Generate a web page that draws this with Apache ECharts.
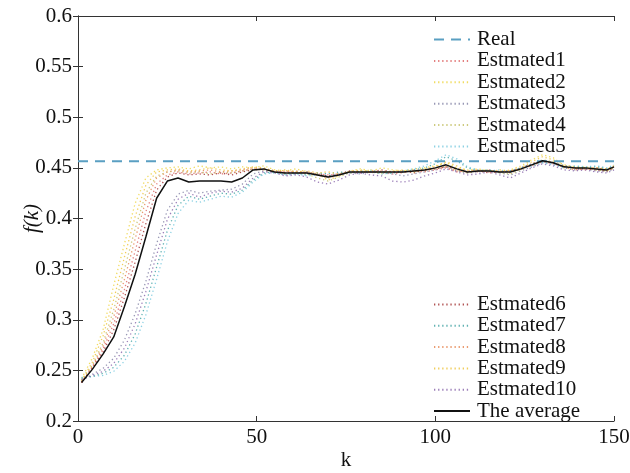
<!DOCTYPE html>
<html>
<head>
<meta charset="utf-8">
<script src="https://cdn.jsdelivr.net/npm/echarts@6/dist/echarts.min.js"></script>
<style>html,body{margin:0;padding:0;background:#fff}#c{width:630px;height:473px}</style>
</head>
<body>
<div id="c"></div>
<script>
var kValues = [1,4,7,10,13,16,19,22,25,28,31,34,37,40,43,46,49,52,55,58,61,64,67,70,73,76,79,82,85,88,91,94,97,100,103,106,109,112,115,118,121,124,127,130,133,136,139,142,145,148,150];
var realValue = 0.4565;
var est1 = [.238,.253,.271,.296,.330,.368,.407,.434,.443,.446,.444,.445,.446,.444,.445,.447,.449,.448,.446,.447,.445,.446,.444,.443,.444,.446,.445,.447,.446,.444,.446,.447,.446,.448,.450,.446,.447,.446,.448,.446,.447,.449,.453,.456,.454,.451,.449,.448,.450,.449,.451];
var est2 = [.242,.262,.290,.334,.375,.415,.440,.448,.450,.451,.449,.452,.450,.451,.449,.451,.450,.452,.448,.447,.449,.446,.444,.438,.442,.447,.449,.447,.450,.448,.447,.449,.450,.452,.455,.450,.448,.449,.447,.446,.448,.452,.458,.463,.460,.452,.450,.451,.449,.447,.450];
var est3 = [.240,.246,.252,.262,.280,.306,.338,.375,.408,.424,.428,.425,.427,.428,.429,.434,.444,.447,.446,.443,.444,.446,.443,.441,.443,.445,.444,.446,.445,.444,.442,.444,.446,.448,.451,.447,.445,.446,.447,.445,.443,.447,.451,.455,.454,.450,.448,.449,.447,.446,.449];
var est4 = [.240,.255,.277,.310,.350,.390,.425,.442,.446,.447,.445,.446,.444,.446,.445,.447,.449,.448,.446,.444,.446,.444,.440,.437,.441,.445,.446,.448,.446,.445,.447,.446,.448,.449,.452,.448,.445,.447,.448,.445,.444,.448,.454,.458,.456,.450,.449,.450,.448,.447,.450];
var est5 = [.243,.244,.245,.249,.259,.277,.305,.340,.377,.405,.418,.416,.419,.422,.421,.426,.436,.444,.445,.443,.444,.442,.443,.442,.444,.446,.445,.447,.446,.445,.447,.449,.452,.457,.463,.459,.451,.448,.447,.448,.446,.449,.452,.455,.453,.450,.452,.451,.452,.450,.453];
var est6 = [.238,.252,.268,.290,.322,.357,.395,.428,.441,.445,.443,.444,.443,.445,.443,.446,.448,.449,.447,.445,.446,.445,.444,.442,.444,.447,.446,.446,.448,.446,.447,.445,.448,.449,.451,.449,.446,.447,.445,.446,.447,.450,.454,.457,.455,.452,.450,.449,.448,.447,.450];
var est7 = [.242,.244,.247,.253,.265,.286,.316,.352,.388,.413,.422,.419,.422,.425,.424,.428,.438,.445,.446,.444,.445,.443,.445,.444,.446,.445,.447,.446,.444,.445,.446,.448,.450,.454,.461,.457,.450,.447,.448,.446,.447,.450,.454,.456,.455,.452,.451,.450,.451,.449,.452];
var est8 = [.239,.254,.274,.303,.340,.380,.418,.440,.446,.448,.446,.447,.448,.446,.447,.448,.450,.449,.447,.446,.447,.445,.443,.440,.443,.446,.447,.445,.447,.446,.445,.448,.447,.450,.451,.447,.446,.448,.446,.447,.445,.449,.452,.456,.455,.451,.448,.449,.450,.448,.451];
var est9 = [.240,.258,.284,.320,.362,.402,.433,.446,.448,.449,.447,.448,.450,.448,.447,.449,.451,.450,.447,.448,.446,.447,.445,.446,.444,.446,.448,.446,.445,.447,.448,.446,.449,.451,.456,.452,.447,.448,.446,.448,.447,.450,.456,.461,.458,.453,.451,.449,.450,.449,.452];
var est10 = [.241,.245,.249,.257,.272,.296,.328,.364,.399,.419,.425,.421,.425,.427,.426,.430,.440,.446,.445,.442,.443,.441,.436,.434,.438,.443,.445,.443,.442,.437,.436,.438,.442,.445,.449,.446,.443,.444,.446,.443,.440,.445,.450,.454,.452,.448,.447,.448,.446,.445,.448];
var average = [.238,.251,.266,.283,.313,.345,.382,.420,.437,.440,.436,.437,.437,.437,.436,.440,.448,.449,.446,.445,.445,.445,.443,.441,.443,.446,.446,.446,.446,.446,.446,.447,.448,.450,.453,.449,.446,.447,.447,.446,.446,.449,.453,.457,.455,.451,.450,.450,.449,.448,.451];

var estimates = [est1,est2,est3,est4,est5,est6,est7,est8,est9,est10];
var estNames = ['Estmated1','Estmated2','Estmated3','Estmated4','Estmated5','Estmated6','Estmated7','Estmated8','Estmated9','Estmated10'];
var estColors = ['#e07070','#f0d850','#8c8cac','#c8c470','#80cce0','#a84040','#50aaaa','#e89060','#f0c848','#9070b0'];

function pairs(arr){ return kValues.map(function(k,i){ return [k, arr[i]]; }); }

var FONT = 'Liberation Serif';
var series = [{
  name: 'Real', type: 'line', symbol: 'none', z: 3,
  data: [[0, realValue],[150, realValue]],
  lineStyle: { color: '#5a9fc2', width: 2, type: [10, 7] },
  itemStyle: { color: '#5a9fc2' }
}];
estimates.forEach(function(arr, i){
  series.push({
    name: estNames[i], type: 'line', symbol: 'none', z: 2,
    data: pairs(arr),
    lineStyle: { color: estColors[i], width: 1.3, type: [1.3, 2.8], opacity: 0.9 },
    itemStyle: { color: estColors[i] }
  });
});
series.push({
  name: 'The average', type: 'line', symbol: 'none', z: 4,
  data: pairs(average),
  lineStyle: { color: '#111', width: 1.5 },
  itemStyle: { color: '#111' }
});

var axisCommon = {
  axisLine: { show: true, lineStyle: { color: '#333', width: 1 } },
  axisTick: { show: true, inside: true, length: 5, lineStyle: { color: '#333' } },
  splitLine: { show: false },
  axisLabel: { color: '#111', fontFamily: FONT, fontSize: 21 }
};
function merge(a, b){ return Object.assign({}, a, b); }

var legendText = { fontFamily: FONT, fontSize: 21, color: '#111', lineHeight: 21, padding: [0,0,0,2] };
var legendCommon = {
  orient: 'vertical', left: 428, itemWidth: 36, itemHeight: 14,
  textStyle: legendText, selectedMode: false,
  itemStyle: { opacity: 0 }
};

var chart = echarts.init(document.getElementById('c'), null, { renderer: 'canvas' });
chart.setOption({
  animation: false,
  backgroundColor: '#fff',
  grid: { left: 78, right: 16, top: 16, bottom: 52, show: false, containLabel: false, outerBoundsMode: 'none' },
  legend: [
    merge(legendCommon, { top: 24, itemGap: 0.4,
      data: ['Real','Estmated1','Estmated2','Estmated3','Estmated4','Estmated5'] }),
    merge(legendCommon, { top: 289, itemGap: 0.3,
      data: ['Estmated6','Estmated7','Estmated8','Estmated9','Estmated10','The average'] })
  ],
  xAxis: [
    merge(axisCommon, { type: 'value', min: 0, max: 150, interval: 50, position: 'bottom',
      name: 'k', nameLocation: 'middle', nameGap: 29, nameMoveOverlap: false,
      nameTextStyle: { fontFamily: FONT, fontSize: 21, color: '#111' },
      axisLabel: { color: '#111', fontFamily: FONT, fontSize: 21, margin: 6 } }),
    merge(axisCommon, { type: 'value', min: 0, max: 150, interval: 50, position: 'top',
      axisLabel: { show: false } })
  ],
  yAxis: [
    merge(axisCommon, { type: 'value', min: 0.2, max: 0.6, interval: 0.05, position: 'left',
      name: 'f(k)', nameLocation: 'middle', nameGap: 35, nameRotate: 90, nameMoveOverlap: false,
      nameTextStyle: { fontFamily: FONT, fontSize: 21, color: '#111', fontStyle: 'italic' },
      axisLabel: { color: '#111', fontFamily: FONT, fontSize: 21, margin: 6 } }),
    merge(axisCommon, { type: 'value', min: 0.2, max: 0.6, interval: 0.05, position: 'right',
      axisLabel: { show: false } })
  ],
  series: series
});
</script>
</body>
</html>
